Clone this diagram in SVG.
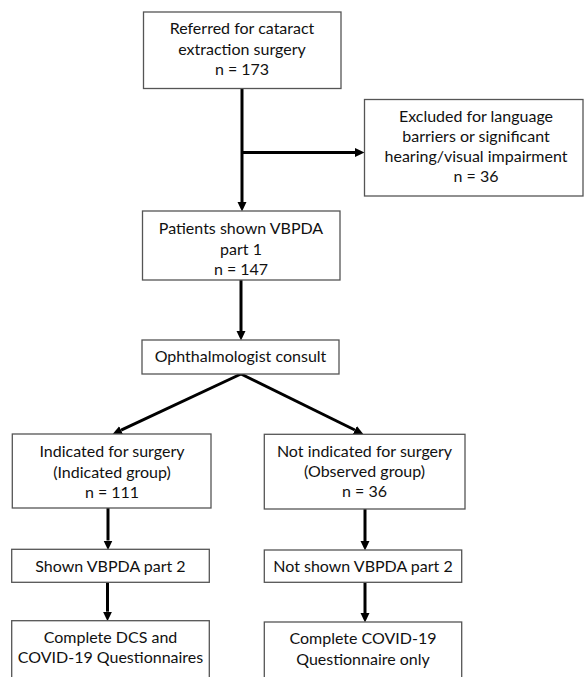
<svg xmlns="http://www.w3.org/2000/svg" width="584" height="677" viewBox="0 0 584 677">
<style>
.box{fill:#fff;stroke:#555;stroke-width:1.3}
.t{font-family:Lato,"Liberation Sans",sans-serif;font-size:16px;fill:#111;text-anchor:middle}
.c{stroke:#000;stroke-width:3;fill:none;marker-end:url(#ah)}
</style>
<defs>
<marker id="ah" markerUnits="userSpaceOnUse" markerWidth="10" markerHeight="10" viewBox="0 0 10 10" refX="0" refY="5" orient="auto">
<path d="M0,0.5 L9.5,5 L0,9.5 z" fill="#000"/>
</marker>
</defs>
<rect width="584" height="677" fill="#fff"/>
<g id="connectors">
<path class="c" d="M242,88.5 V202"/>
<path class="c" d="M242,152.5 H355"/>
<path class="c" d="M241,280 V331"/>
<path class="c" d="M241,374 L121.1,430.2"/>
<path class="c" d="M241,374 L354.9,430"/>
<path class="c" d="M108,508 V540.5"/>
<path class="c" d="M107.5,582.3 V611.7"/>
<path class="c" d="M365,509 V541"/>
<path class="c" d="M365,582.3 V613"/>
</g>
<g id="referred">
<rect class="box" x="143.5" y="12" width="197.5" height="76.5"/>
<text class="t" x="242" y="33.5">Referred for cataract</text>
<text class="t" x="242" y="54.5">extraction surgery</text>
<text class="t" x="242" y="75">n = 173</text>
</g>
<g id="excluded">
<rect class="box" x="364.5" y="99.5" width="218.5" height="96.5"/>
<text class="t" x="476" y="121.5">Excluded for language</text>
<text class="t" x="476" y="141.5">barriers or significant</text>
<text class="t" x="476" y="161.5">hearing/visual impairment</text>
<text class="t" x="476" y="182">n = 36</text>
</g>
<g id="part1">
<rect class="box" x="142.5" y="211" width="197.5" height="69"/>
<text class="t" x="241" y="233.5">Patients shown VBPDA</text>
<text class="t" x="241" y="254.5">part 1</text>
<text class="t" x="241" y="274.5">n = 147</text>
</g>
<g id="consult">
<rect class="box" x="142" y="340" width="197" height="34"/>
<text class="t" x="240.5" y="362">Ophthalmologist consult</text>
</g>
<g id="indicated">
<rect class="box" x="12.3" y="434" width="198.7" height="74"/>
<text class="t" x="112" y="457">Indicated for surgery</text>
<text class="t" x="112" y="477.5">(Indicated group)</text>
<text class="t" x="112" y="498">n = 111</text>
</g>
<g id="observed">
<rect class="box" x="264.3" y="434.3" width="200.7" height="74.7"/>
<text class="t" x="364.5" y="456.5">Not indicated for surgery</text>
<text class="t" x="364.5" y="477">(Observed group)</text>
<text class="t" x="364.5" y="497">n = 36</text>
</g>
<g id="shown2">
<rect class="box" x="11.7" y="549.3" width="197.6" height="33"/>
<text class="t" x="110.5" y="572">Shown VBPDA part 2</text>
</g>
<g id="notshown2">
<rect class="box" x="264.3" y="550" width="197.4" height="32.3"/>
<text class="t" x="363" y="572">Not shown VBPDA part 2</text>
</g>
<g id="dcs">
<rect class="box" x="11.7" y="620.7" width="197.6" height="70"/>
<text class="t" x="110.5" y="642.5">Complete DCS and</text>
<text class="t" x="110.5" y="662.5">COVID-19 Questionnaires</text>
</g>
<g id="covidonly">
<rect class="box" x="264.3" y="622" width="197.4" height="70"/>
<text class="t" x="363" y="644">Complete COVID-19</text>
<text class="t" x="363" y="664.5">Questionnaire only</text>
</g>
</svg>
